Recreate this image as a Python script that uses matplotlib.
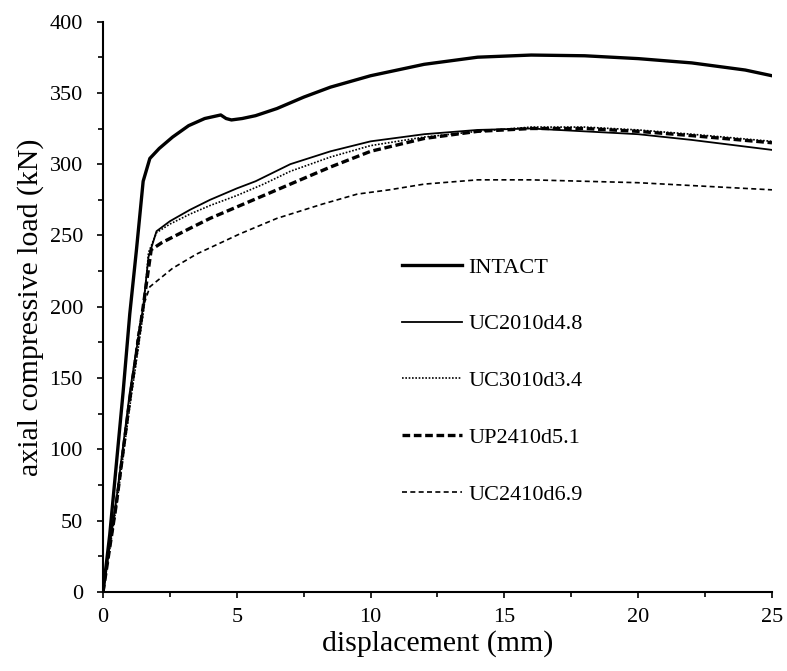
import matplotlib
matplotlib.use("Agg")
import matplotlib.pyplot as plt
from matplotlib.ticker import MultipleLocator

plt.rcParams['font.family'] = ['Liberation Serif', 'DejaVu Serif']

# load-displacement data
intact_x = [0, 0.25, 0.5, 0.75, 1.0, 1.25, 1.5, 1.75, 2.1, 2.6, 3.2, 3.8, 4.4, 4.6, 4.8, 5.2, 5.7,
            6.5, 7.5, 8.5, 10, 12, 14, 16, 18, 20, 22, 24, 25]
intact_y = [0, 40, 90, 140, 195, 240, 288, 304, 311, 319, 327, 332, 334.5, 332, 331, 332, 334,
            339, 347, 354, 362, 370, 375, 376.5, 376, 374, 371, 366, 362]

uc2010_x = [0, 0.5, 1.0, 1.5, 1.7, 2.0, 2.5, 3.25, 4, 5, 5.7, 7, 8.5, 10, 12, 14, 16, 18, 20, 22, 25]
uc2010_y = [0, 65, 140, 200, 235, 253, 260, 268, 275, 283, 288, 300, 309, 316, 321, 324, 325, 323,
            321, 317, 310]

uc3010_x = [0, 0.5, 1.0, 1.5, 1.7, 2.0, 2.5, 3.25, 4, 5, 6, 7, 8.5, 10, 12, 14, 16, 18, 20, 22, 25]
uc3010_y = [0, 60, 130, 195, 238, 252, 258, 265, 271, 278, 286, 295, 305, 313, 319, 323, 326, 326,
            324, 321, 316]

up2410_x = [0, 0.5, 1.0, 1.5, 1.8, 2.2, 3.25, 4, 5, 6, 7, 8.5, 10, 12, 14, 16, 18, 20, 22, 25]
up2410_y = [0, 62, 135, 200, 240, 245, 255, 262, 270, 278, 286, 298, 309, 318, 323, 325, 325, 323,
            320, 315]

uc2410_x = [0, 0.5, 1.0, 1.3, 1.5, 1.75, 2.6, 3.5, 5.1, 6.5, 8.2, 9.5, 10.7, 12, 14, 16, 18, 20, 22, 25]
uc2410_y = [0, 65, 135, 180, 200, 214, 227, 237, 251, 262, 272, 279, 282, 286, 289, 289, 288, 287,
            285, 282]

fig = plt.figure(figsize=(7.87, 6.71), dpi=100)
ax = fig.add_axes([0.1309, 0.1177, 0.850, 0.8502])

ax.plot(intact_x, intact_y, color='black', lw=2.4, label='INTACT')
ax.plot(uc2010_x, uc2010_y, color='black', lw=1.3, label='UC2010d4.8')
ax.plot(uc3010_x, uc3010_y, color='black', lw=1.2, ls=(0, (1, 1)), label='UC3010d3.4')
ax.plot(up2410_x, up2410_y, color='black', lw=2.4, ls=(0, (2.3, 1.1)), label='UP2410d5.1')
ax.plot(uc2410_x, uc2410_y, color='black', lw=1.2, ls=(0, (3, 2)), label='UC2410d6.9')

ax.set_xlim(0, 25)
ax.set_ylim(0, 400)
ax.xaxis.set_major_locator(MultipleLocator(5))
ax.xaxis.set_minor_locator(MultipleLocator(2.5))
ax.yaxis.set_major_locator(MultipleLocator(50))
ax.yaxis.set_minor_locator(MultipleLocator(25))
ax.tick_params(which='both', direction='out', width=1.2, labelsize=16)
ax.tick_params(which='major', length=4.5)
ax.tick_params(which='minor', length=3.5)
ax.tick_params(axis='y', which='major', pad=10)
ax.tick_params(axis='x', which='major', pad=7)
ax.spines['top'].set_visible(False)
ax.spines['right'].set_visible(False)
ax.spines['left'].set_linewidth(1.5)
ax.spines['bottom'].set_linewidth(1.5)

ax.set_xlabel('displacement (mm)', fontsize=21.5, labelpad=2)
ax.set_ylabel('axial compressive load (kN)', fontsize=21.5, labelpad=4)

ax.legend(loc='upper left', bbox_to_anchor=(402 / 787, 1 - 257 / 671), bbox_transform=fig.transFigure,
          frameon=False, fontsize=16, handlelength=2.7, handletextpad=0.3, labelspacing=1.63,
          borderpad=0, borderaxespad=0)

plt.savefig('out.png', dpi=100)
